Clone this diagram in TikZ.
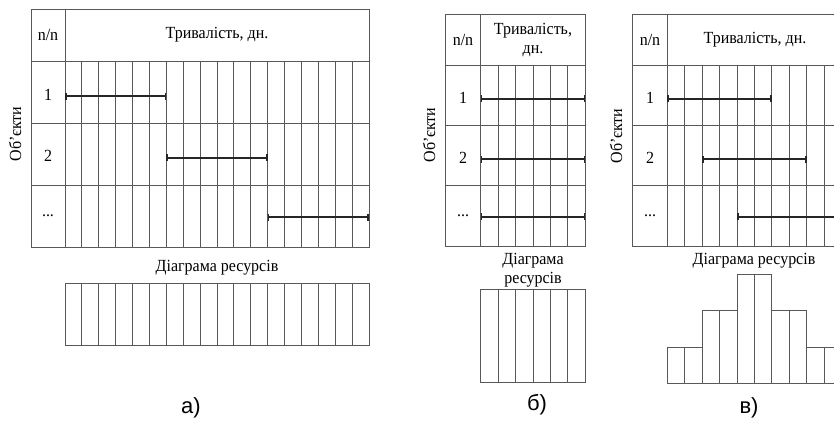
\documentclass[tikz,border=0pt]{standalone}
\usepackage{fontspec}
\setmainfont{Liberation Serif}[FakeStretch=0.94]
\newfontfamily\capfont{Liberation Sans}
\usetikzlibrary{arrows.meta}

\tikzset{
  gridline/.style={draw=black!65, line width=0.9pt},
  task/.style={draw=black!85, line width=1.7pt, {Bar[width=7pt]}-{Bar[width=7pt]}},
  lbl/.style={inner sep=0pt, font=\fontsize{17}{19}\selectfont, align=center},
  panellabel/.style={inner sep=0pt, font=\capfont\fontsize{22}{24}\selectfont},
}

\begin{document}
\begin{tikzpicture}[x=1pt,y=-1pt]
\useasboundingbox (0,0) rectangle (834,420);
\clip (0,0) rectangle (834,420);

% а)
\draw[gridline] (31,9.3) rectangle (369,247);
\draw[gridline] (65,9.3) -- (65,247);
\foreach \y in {61,123,185}
  \draw[gridline] (31,\y) -- (369,\y);
\foreach \i in {1,...,17}
  \draw[gridline] ({65+\i*16.89},61) -- ({65+\i*16.89},247);
\foreach \i in {0,...,17}
  \draw[gridline] ({65+\i*16.89},283.3) rectangle ({65+(\i+1)*16.89},345.7);
\coordinate (a1s) at (65,96);
\coordinate (a1e) at (166.3,96);
\coordinate (a2s) at (166.3,157.7);
\coordinate (a2e) at (267.7,157.7);
\coordinate (a3s) at (267.7,217);
\coordinate (a3e) at (369,217);
\draw[task] (a1s) -- (a1e);
\draw[task] (a2s) -- (a2e);
\draw[task] (a3s) -- (a3e);
\node[lbl] (a-nn) at (48,35) {n/n};
\node[lbl] (a-dur) at (217,35) {Тривалість, дн.};
\node[lbl] (a-r1) at (48,95) {1};
\node[lbl] (a-r2) at (48,156) {2};
\node[lbl] (a-r3) at (48,216) {...};
\node[lbl, rotate=90] (a-obj) at (15,134) {Об’єкти};
\node[lbl] (a-res) at (217,268) {Діаграма ресурсів};
\node[panellabel] (a-cap) at (191,408) {а)};

% б)
\draw[gridline] (445.3,14.7) rectangle (585.3,246);
\draw[gridline] (480.7,14.7) -- (480.7,246);
\foreach \y in {65.3,125.7,185.7}
  \draw[gridline] (445.3,\y) -- (585.3,\y);
\foreach \i in {1,...,5}
  \draw[gridline] ({480.7+\i*17.43},65.3) -- ({480.7+\i*17.43},246);
\foreach \i in {0,...,5}
  \draw[gridline] ({480.7+\i*17.43},289.3) rectangle ({480.7+(\i+1)*17.43},382.7);
\coordinate (b1s) at (480.7,98.7);
\coordinate (b1e) at (585.3,98.7);
\coordinate (b2s) at (480.7,159.3);
\coordinate (b2e) at (585.3,159.3);
\coordinate (b3s) at (480.7,216.7);
\coordinate (b3e) at (585.3,216.7);
\draw[task] (b1s) -- (b1e);
\draw[task] (b2s) -- (b2e);
\draw[task] (b3s) -- (b3e);
\node[lbl] (b-nn) at (463,40) {n/n};
\node[lbl] (b-dur) at (533,40) {Тривалість,\\дн.};
\node[lbl] (b-r1) at (463,98) {1};
\node[lbl] (b-r2) at (463,158) {2};
\node[lbl] (b-r3) at (463,216) {...};
\node[lbl, rotate=90] (b-obj) at (429,135) {Об’єкти};
\node[lbl] (b-res) at (533,270) {Діаграма\\ресурсів};
\node[panellabel] (b-cap) at (537,405) {б)};

% в)
\draw[gridline] (632.3,14.7) rectangle (841.6,246);
\draw[gridline] (667.3,14.7) -- (667.3,246);
\foreach \y in {65.3,125.7,185.7}
  \draw[gridline] (632.3,\y) -- (841.6,\y);
\foreach \i in {1,...,9}
  \draw[gridline] ({667.3+\i*17.43},65.3) -- ({667.3+\i*17.43},246);
\foreach \h [count=\i from 0] in {1,1,2,2,3,3,2,2,1,1}
  \draw[gridline] ({667.3+\i*17.43},383.3) rectangle ({667.3+(\i+1)*17.43},{383.3-\h*36.3});
\coordinate (c1s) at (667.3,98.7);
\coordinate (c1e) at (771.9,98.7);
\coordinate (c2s) at (702.2,159.3);
\coordinate (c2e) at (806.8,159.3);
\coordinate (c3s) at (737.0,216.7);
\coordinate (c3e) at (841.6,216.7);
\draw[task] (c1s) -- (c1e);
\draw[task] (c2s) -- (c2e);
\draw[task] (c3s) -- (c3e);
\node[lbl] (c-nn) at (650,40) {n/n};
\node[lbl] (c-dur) at (755,40) {Тривалість, дн.};
\node[lbl] (c-r1) at (650,98) {1};
\node[lbl] (c-r2) at (650,158) {2};
\node[lbl] (c-r3) at (650,216) {...};
\node[lbl, rotate=90] (c-obj) at (616,136) {Об’єкти};
\node[lbl] (c-res) at (754,261) {Діаграма ресурсів};
\node[panellabel] (c-cap) at (749,408) {в)};
\end{tikzpicture}
\end{document}
